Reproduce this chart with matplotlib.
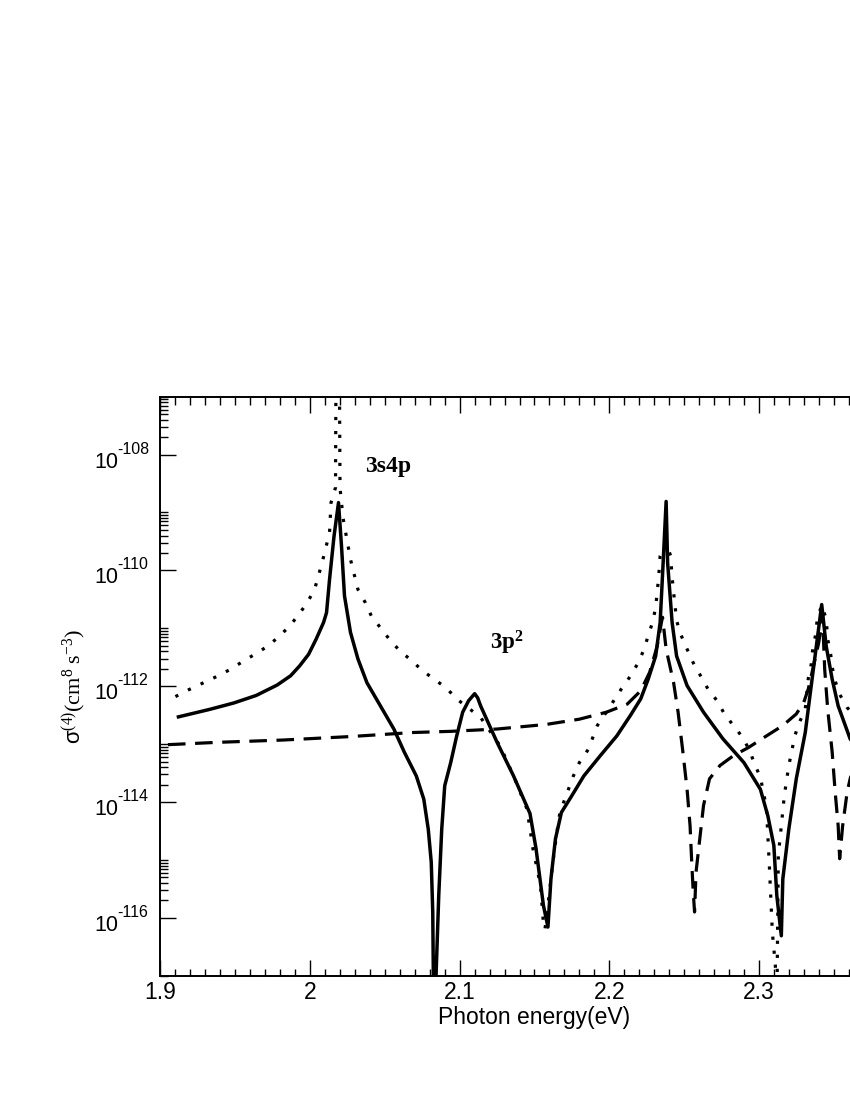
import matplotlib
matplotlib.use("Agg")
import matplotlib.pyplot as plt
from matplotlib.ticker import FixedLocator, FuncFormatter, MultipleLocator, NullFormatter
import numpy as np

plt.rcParams['font.family'] = ['Liberation Sans', 'DejaVu Sans']
plt.rcParams['mathtext.fontset'] = 'custom'
plt.rcParams['mathtext.rm'] = 'Liberation Serif'
plt.rcParams['mathtext.it'] = 'Liberation Serif:italic'
plt.rcParams['mathtext.bf'] = 'Liberation Serif:bold'
plt.rcParams['mathtext.sf'] = 'Liberation Sans'

# photon energy (eV) and log10 of sigma^(4)
solid_x = [1.912, 1.933, 1.949, 1.964, 1.978, 1.987, 1.993, 1.999, 2.004, 2.009,
           2.011, 2.013, 2.016, 2.019, 2.021, 2.023, 2.027, 2.032, 2.038, 2.047,
           2.056, 2.063, 2.071, 2.076, 2.079, 2.081, 2.082, 2.0824, 2.0833, 2.0842,
           2.086, 2.088, 2.090, 2.094, 2.098, 2.102, 2.106, 2.110, 2.112, 2.114,
           2.125, 2.136, 2.147, 2.151, 2.156, 2.159, 2.161, 2.164, 2.168, 2.175,
           2.183, 2.194, 2.205, 2.214, 2.221, 2.226, 2.231, 2.234, 2.236, 2.238,
           2.239, 2.242, 2.245, 2.252, 2.263, 2.276, 2.290, 2.301, 2.306, 2.310,
           2.312, 2.315, 2.316, 2.320, 2.325, 2.331, 2.335, 2.339, 2.342, 2.345,
           2.349, 2.353, 2.361, 2.368]
solid_log = [-112.53, -112.40, -112.29, -112.16, -111.98, -111.82, -111.65, -111.45, -111.19, -110.90,
             -110.73, -110.16, -109.41, -108.83, -109.58, -110.44, -111.07, -111.53, -111.94, -112.34,
             -112.74, -113.14, -113.55, -113.95, -114.47, -115.04, -115.90, -117.0, -117.6, -117.0,
             -115.62, -114.47, -113.72, -113.32, -112.86, -112.45, -112.25, -112.13, -112.20, -112.34,
             -112.97, -113.55, -114.20, -114.80, -115.79, -116.16, -115.33, -114.64, -114.18, -113.89,
             -113.55, -113.20, -112.86, -112.51, -112.22, -111.88, -111.48, -110.90, -109.87, -108.81,
             -109.87, -110.90, -111.48, -111.99, -112.45, -112.91, -113.32, -113.78, -114.24, -114.75,
             -115.62, -116.31, -115.33, -114.47, -113.60, -112.80, -111.99, -111.19, -110.59, -111.31,
             -111.88, -112.34, -112.91, -113.15]

dot_x = [1.910, 1.919, 1.928, 1.937, 1.946, 1.954, 1.963, 1.971, 1.979, 1.986,
         1.992, 1.998, 2.003, 2.008, 2.013, 2.014, 2.017, 2.0183, 2.020, 2.022,
         2.027, 2.032, 2.037, 2.041, 2.047, 2.053, 2.060, 2.068, 2.075, 2.083,
         2.091, 2.098, 2.114, 2.127, 2.136, 2.145, 2.149, 2.154, 2.156, 2.157,
         2.159, 2.162, 2.165, 2.167, 2.172, 2.176, 2.180, 2.186, 2.192, 2.198,
         2.203, 2.208, 2.214, 2.219, 2.223, 2.226, 2.229, 2.231, 2.232, 2.233,
         2.234, 2.238, 2.241, 2.242, 2.243, 2.244, 2.245, 2.248, 2.252, 2.256,
         2.261, 2.266, 2.272, 2.277, 2.283, 2.289, 2.294, 2.297, 2.301, 2.303,
         2.305, 2.306, 2.307, 2.309, 2.311, 2.312, 2.313, 2.314, 2.315, 2.317,
         2.320, 2.322, 2.324, 2.327, 2.331, 2.333, 2.335, 2.336, 2.338, 2.339,
         2.342, 2.345, 2.346, 2.348, 2.349, 2.351, 2.354, 2.359, 2.364]
dot_log = [-112.18, -112.06, -111.95, -111.84, -111.72, -111.59, -111.45, -111.32, -111.15, -110.97,
           -110.78, -110.56, -110.33, -109.87, -109.35, -108.83, -108.57, -100.0, -108.57, -109.09,
           -109.81, -110.33, -110.56, -110.79, -110.99, -111.19, -111.39, -111.56, -111.73, -111.88,
           -112.03, -112.22, -112.54, -113.03, -113.55, -114.12, -114.81, -115.44, -116.10, -116.20,
           -115.79, -115.10, -114.52, -114.18, -113.83, -113.55, -113.32, -113.09, -112.68, -112.45,
           -112.25, -112.05, -111.83, -111.61, -111.38, -111.13, -110.89, -110.64, -110.38, -110.12,
           -109.75, -109.52, -109.75, -110.12, -110.38, -110.62, -110.87, -111.12, -111.36, -111.59,
           -111.82, -112.05, -112.25, -112.48, -112.68, -112.88, -113.12, -113.34, -113.57, -113.83,
           -114.09, -114.58, -115.10, -116.25, -116.82, -117.60, -114.90, -114.67, -114.41, -113.89,
           -113.37, -113.12, -112.86, -112.63, -112.40, -111.87, -111.62, -111.36, -111.10, -110.84,
           -110.60, -110.84, -111.19, -111.45, -111.67, -111.91, -112.14, -112.37, -112.50]

dash_x = [1.905, 1.938, 1.982, 2.027, 2.069, 2.094, 2.125, 2.158, 2.180, 2.198,
          2.212, 2.221, 2.227, 2.232, 2.235, 2.2356, 2.238, 2.243, 2.246, 2.249,
          2.252, 2.254, 2.255, 2.256, 2.257, 2.258, 2.261, 2.263, 2.267, 2.274,
          2.283, 2.293, 2.305, 2.316, 2.325, 2.330, 2.333, 2.336, 2.340, 2.342,
          2.3425, 2.344, 2.346, 2.349, 2.351, 2.353, 2.354, 2.356, 2.359, 2.361,
          2.364]
dash_log = [-113.01, -112.97, -112.93, -112.87, -112.80, -112.78, -112.74, -112.66, -112.57, -112.45,
            -112.31, -112.08, -111.76, -111.31, -110.88, -110.81, -111.36, -111.94, -112.45, -113.09,
            -113.78, -114.41, -114.98, -115.50, -115.90, -115.21, -114.52, -114.06, -113.60, -113.37,
            -113.20, -113.06, -112.86, -112.68, -112.48, -112.28, -112.05, -111.71, -111.25, -110.90,
            -110.76, -111.71, -112.40, -113.14, -113.83, -114.41, -114.98, -114.41, -113.83, -113.60,
            -113.34]

major_exp = [-116, -114, -112, -110, -108]

fig = plt.figure(figsize=(8.5, 11), dpi=100)
ax = fig.add_axes([0.1888, 0.1130, 0.8800, 0.5264])

ax.plot(solid_x, 10.0 ** np.array(solid_log), color='black', lw=2.5, ls='-')
ax.plot(dot_x, 10.0 ** np.array(dot_log), color='black', lw=2.3, ls=(0, (1, 3.4)))
ax.plot(dash_x, 10.0 ** np.array(dash_log), color='black', lw=2.3, ls=(0, (5.5, 3)))

ax.set_yscale('log')
ax.set_xlim(1.9, 2.4)
ax.set_ylim(1e-117, 1e-107)

ax.yaxis.set_major_locator(FixedLocator([10.0 ** e for e in major_exp]))
ax.yaxis.set_major_formatter(NullFormatter())
minors = [k * 10.0 ** e for e in range(-118, -106, 2) for k in range(2, 11)]
ax.yaxis.set_minor_locator(FixedLocator(minors))
ax.yaxis.set_minor_formatter(NullFormatter())

# y tick labels: "10" with a raised exponent using a plain hyphen
for e in major_exp:
    ax.annotate('10', xy=(0, 10.0 ** e), xycoords=('axes fraction', 'data'),
                xytext=(-30.6, -9.4), textcoords='offset points',
                ha='right', va='baseline', fontsize=15.5)
    ax.annotate('%d' % e, xy=(0, 10.0 ** e), xycoords=('axes fraction', 'data'),
                xytext=(-31.2, 0.7), textcoords='offset points',
                ha='left', va='baseline', fontsize=11.5)

ax.xaxis.set_major_locator(MultipleLocator(0.1))
ax.xaxis.set_minor_locator(MultipleLocator(0.01))
ax.xaxis.set_major_formatter(FuncFormatter(lambda v, p: '%g' % round(v, 2) if v < 2.35 else ''))

ax.tick_params(which='both', direction='in', top=True, right=True, width=1.0)
ax.tick_params(which='major', length=11.5, labelsize=16.5)
ax.tick_params(axis='x', which='major', pad=4)
ax.tick_params(which='minor', length=5.4)
for s in ax.spines.values():
    s.set_linewidth(1.4)

ax.set_xlabel('Photon energy(eV)', fontsize=16.5, labelpad=1)
ax.set_ylabel(r'$\mathsf{\sigma}^{(4)}(\mathrm{cm}^{8}\ \mathrm{s}^{-3})$', fontsize=16)
ax.yaxis.set_label_coords(-0.095, 0.5)

ax.text(2.052, 10 ** -108.21, '3s4p', family='Liberation Serif', weight='bold',
        fontsize=17, ha='center', va='center')
ax.text(2.120, 10 ** -111.36, r'$\mathbf{3p^{2}}$', fontsize=16.5, ha='left', va='baseline')

fig.savefig('out.png', dpi=100)
